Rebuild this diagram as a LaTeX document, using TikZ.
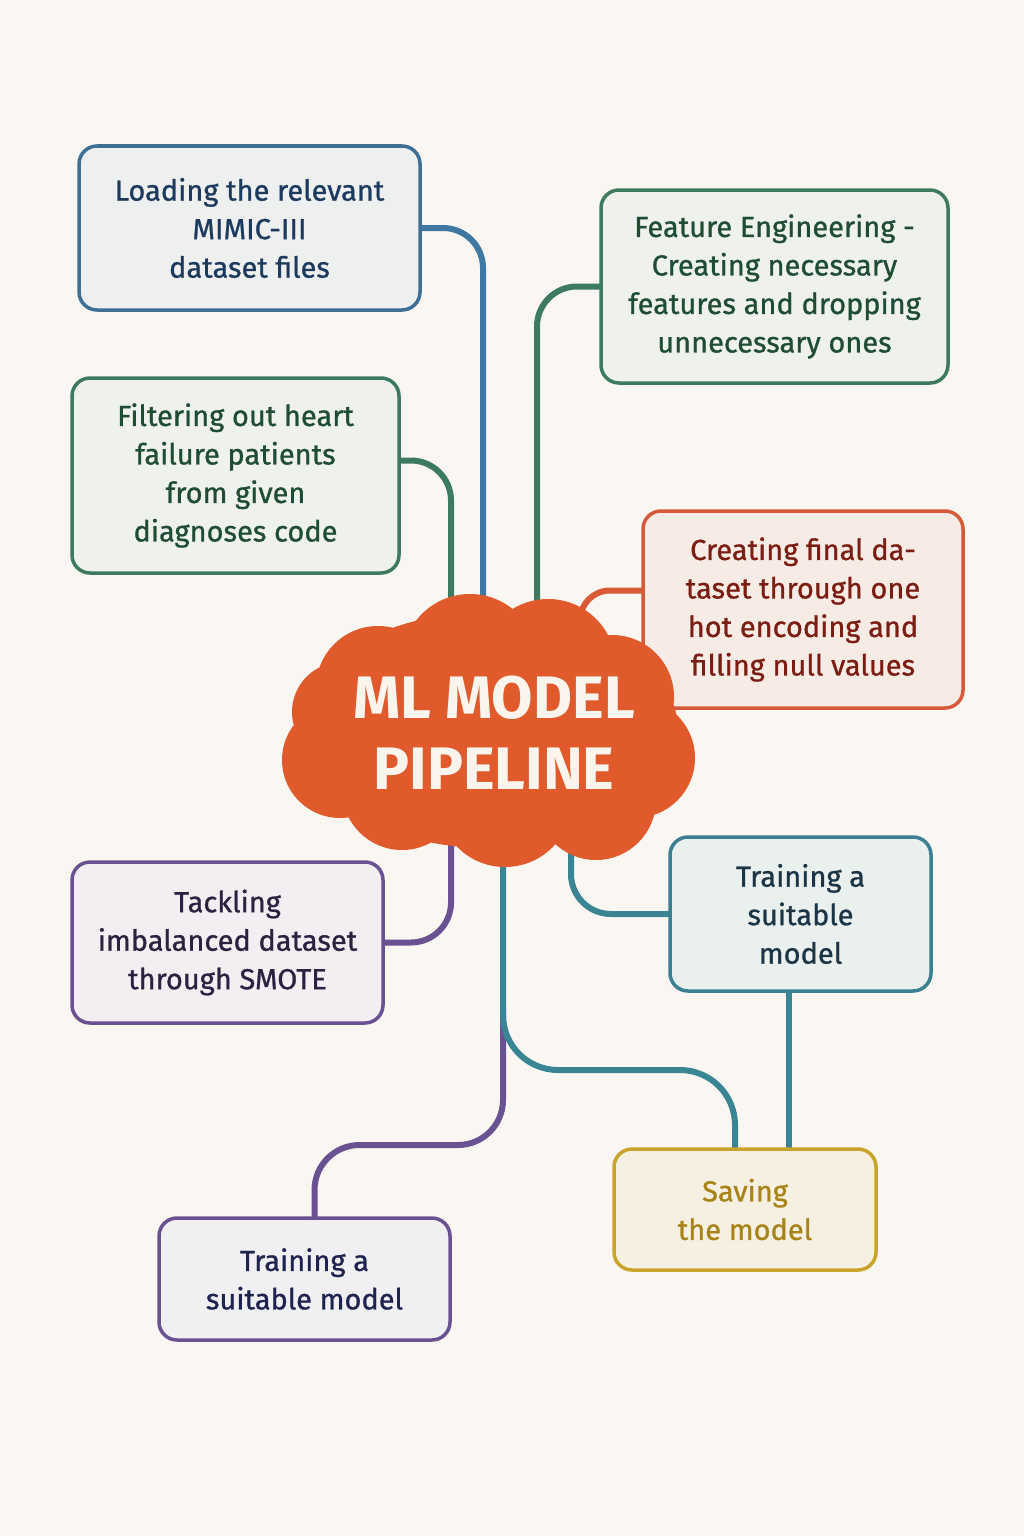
\documentclass[tikz,border=0pt]{standalone}
\usepackage{fontspec}
\setmainfont{Fira Sans}
\newfontfamily\boxfont{Fira Sans}[FakeBold=0.9]
\usetikzlibrary{backgrounds}
\pgfdeclarelayer{wires}
\pgfdeclarelayer{front}
\pgfsetlayers{background,wires,main,front}

\definecolor{paper}{HTML}{FAF7F2}
\definecolor{cloudfill}{HTML}{E05A2B}
\definecolor{cloudtext}{HTML}{FBF5EE}
% box outlines
\definecolor{blueline}{HTML}{3E6F94}
\definecolor{greenline}{HTML}{3D7A5E}
\definecolor{redline}{HTML}{D65A3A}
\definecolor{purpleline}{HTML}{6A5292}
\definecolor{tealline}{HTML}{3A7F92}
\definecolor{goldline}{HTML}{C9A42A}
% box fills
\definecolor{bluefill}{HTML}{EEF0F0}
\definecolor{greenfill}{HTML}{EEF1EC}
\definecolor{redfill}{HTML}{F7ECE5}
\definecolor{purplefill}{HTML}{F2EEF1}
\definecolor{tealfill}{HTML}{EAF0EE}
\definecolor{goldfill}{HTML}{F6F0E3}
\definecolor{navyfill}{HTML}{F0EFF2}
% box texts
\definecolor{bluetext}{HTML}{1C3A5E}
\definecolor{greentext}{HTML}{1F4D33}
\definecolor{redtext}{HTML}{7B1D12}
\definecolor{purpletext}{HTML}{2B2140}
\definecolor{tealtext}{HTML}{1B3547}
\definecolor{goldtext}{HTML}{A88317}
\definecolor{navytext}{HTML}{1F2350}
% connector colours
\definecolor{bluewire}{HTML}{3F79A3}
\definecolor{greenwire}{HTML}{3C7B5F}
\definecolor{redwire}{HTML}{D85B35}
\definecolor{purplewire}{HTML}{6A5192}
\definecolor{tealwire}{HTML}{3A8593}

\tikzset{
  stepbox/.style={draw, rounded corners=18pt, line width=3.5pt, align=center,
    inner sep=0pt, font=\boxfont\fontsize{29}{38.5}\selectfont},
  wire/.style={line width=6pt, rounded corners=40pt, line cap=round},
}

\begin{document}
\begin{tikzpicture}[x=1pt,y=-1pt]
  \begin{pgfonlayer}{background}
    \fill[paper] (0,0) rectangle (1024,1536);
  \end{pgfonlayer}
  \useasboundingbox (0,0) rectangle (1024,1536);

  % process steps
  \node[stepbox, draw=blueline, fill=bluefill, text=bluetext,
        minimum width=341pt, minimum height=164pt] (load) at (249.5,228)
        {Loading the relevant\\MIMIC-III\\dataset files};
  \node[stepbox, draw=greenline, fill=greenfill, text=greentext,
        minimum width=347pt, minimum height=193pt] (feat) at (774.5,286.5)
        {Feature Engineering -\\Creating necessary\\features and dropping\\unnecessary ones};
  \node[stepbox, draw=greenline, fill=greenfill, text=greentext,
        minimum width=327pt, minimum height=195pt] (filt) at (235.5,475.5)
        {Filtering out heart\\failure patients\\from given\\diagnoses code};
  \node[stepbox, draw=redline, fill=redfill, text=redtext,
        minimum width=320pt, minimum height=197pt] (final) at (803,609.5)
        {Creating final da-\\taset through one\\hot encoding and\\filling null values};
  \node[stepbox, draw=purpleline, fill=purplefill, text=purpletext,
        minimum width=311pt, minimum height=161pt] (smote) at (227.5,942.5)
        {Tackling\\imbalanced dataset\\through SMOTE};
  \node[stepbox, draw=tealline, fill=tealfill, text=tealtext,
        minimum width=261pt, minimum height=154pt] (trainR) at (800.5,914)
        {Training a\\suitable\\model};
  \node[stepbox, draw=goldline, fill=goldfill, text=goldtext,
        minimum width=262pt, minimum height=121pt] (save) at (745,1209.5)
        {Saving\\the model};
  \node[stepbox, draw=purpleline, fill=navyfill, text=navytext,
        minimum width=291pt, minimum height=122pt] (trainB) at (304.5,1279)
        {Training a\\suitable model};

  % connector ends hidden under the cloud
  \coordinate (cBlue)   at (483,650);
  \coordinate (cGreenA) at (537,650);
  \coordinate (cGreenB) at (451,650);
  \coordinate (cRed)    at (580,625);
  \coordinate (cPurple) at (451,820);
  \coordinate (cTealA)  at (571,820);
  \coordinate (cTealB)  at (503,820);
  \coordinate (mergeP)  at (503,1010);

  \begin{pgfonlayer}{wires}
    \draw[wire, bluewire]   (load.east) -| (cBlue);
    \draw[wire, greenwire]  (feat.west) -| (cGreenA);
    \draw[wire, greenwire]  ([yshift=15pt]filt.east) -| (cGreenB);
    \draw[wire, redwire, rounded corners=30pt] ([yshift=19pt]final.west) -| (cRed);
    \draw[wire, purplewire] (smote.east) -| (cPurple);
    \draw[wire, tealwire]   (trainR.west) -| (cTealA);
    \draw[wire, purplewire, rounded corners=45pt]
      ([xshift=10pt]trainB.north) |- (503,1145) -- (mergeP);
    \draw[wire, tealwire, rounded corners=55pt]
      (cTealB) |- (735,1070) -- ([xshift=-10pt]save.north);
    \draw[wire, tealwire]
      ([xshift=-11.5pt]trainR.south) -- ([xshift=-11.5pt]trainR.south |- save.north);
  \end{pgfonlayer}

  % central cloud
  \begin{pgfonlayer}{front}
    \fill[cloudfill]
      (488,730) ellipse [x radius=190pt, y radius=118pt]
      (378,688) circle [radius=62pt]
      (470,662) circle [radius=68pt]
      (548,667) circle [radius=68pt]
      (612,697) circle [radius=62pt]
      (635,758) circle [radius=60pt]
      (596,800) circle [radius=60pt]
      (505,800) circle [radius=67pt]
      (402,790) circle [radius=60pt]
      (340,760) circle [radius=58pt]
      (342,712) circle [radius=50pt];
    \node[text=cloudtext, align=center, inner sep=0pt,
          font=\fontsize{60}{71}\selectfont\bfseries] (hub) at (494,733)
          {ML MODEL\\PIPELINE};
  \end{pgfonlayer}
\end{tikzpicture}
\end{document}
